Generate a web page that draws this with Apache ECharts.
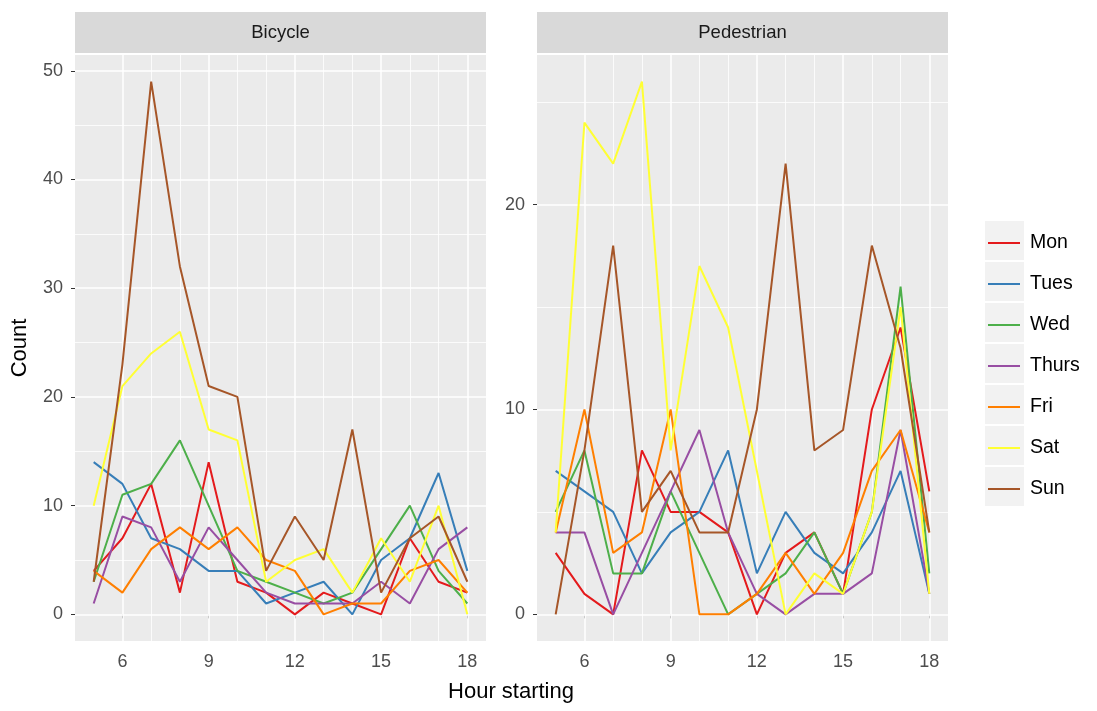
<!DOCTYPE html>
<html>
<head>
<meta charset="utf-8">
<script src="https://cdn.jsdelivr.net/npm/echarts@6/dist/echarts.min.js"></script>
<style>
  html, body { margin: 0; padding: 0; background: #ffffff; }
  #chart { width: 1097px; height: 711px; }
</style>
</head>
<body>
<div id="chart"></div>
<script>
// Hourly counts by day of week, split into two facets
const hours = [5, 6, 7, 8, 9, 10, 11, 12, 13, 14, 15, 16, 17, 18];
const days = ['Mon', 'Tues', 'Wed', 'Thurs', 'Fri', 'Sat', 'Sun'];
const facets = ['Bicycle', 'Pedestrian'];

const bicycleMon   = [4, 7, 12, 2, 14, 3, 2, 0, 2, 1, 0, 7, 3, 2];
const bicycleTues  = [14, 12, 7, 6, 4, 4, 1, 2, 3, 0, 5, 7, 13, 4];
const bicycleWed   = [3, 11, 12, 16, 10, 4, 3, 2, 1, 2, 6, 10, 4, 1];
const bicycleThurs = [1, 9, 8, 3, 8, 5, 2, 1, 1, 1, 3, 1, 6, 8];
const bicycleFri   = [4, 2, 6, 8, 6, 8, 5, 4, 0, 1, 1, 4, 5, 2];
const bicycleSat   = [10, 21, 24, 26, 17, 16, 3, 5, 6, 2, 7, 3, 10, 0];
const bicycleSun   = [3, 23, 49, 32, 21, 20, 4, 9, 5, 17, 2, 7, 9, 3];

const pedestrianMon   = [3, 1, 0, 8, 5, 5, 4, 0, 3, 4, 1, 10, 14, 6];
const pedestrianTues  = [7, 6, 5, 2, 4, 5, 8, 2, 5, 3, 2, 4, 7, 1];
const pedestrianWed   = [5, 8, 2, 2, 6, 3, 0, 1, 2, 4, 1, 5, 16, 2];
const pedestrianThurs = [4, 4, 0, 3, 6, 9, 4, 1, 0, 1, 1, 2, 9, 1];
const pedestrianFri   = [4, 10, 3, 4, 10, 0, 0, 1, 3, 1, 3, 7, 9, 4];
const pedestrianSat   = [4, 24, 22, 26, 8, 17, 14, 7, 0, 2, 1, 5, 15, 1];
const pedestrianSun   = [0, 8, 18, 5, 7, 4, 4, 10, 22, 8, 9, 18, 13, 4];

// Axis breaks
const xBreaks = [6, 9, 12, 15, 18];
const xMinorBreaks = [7, 8, 10, 11, 13, 14, 16, 17];
const bicycleBreaks = [0, 10, 20, 30, 40, 50];
const bicycleMinorBreaks = [5, 15, 25, 35, 45];
const pedestrianBreaks = [0, 10, 20];
const pedestrianMinorBreaks = [5, 15, 25];

const bicycleSeries = [bicycleMon, bicycleTues, bicycleWed, bicycleThurs, bicycleFri, bicycleSat, bicycleSun];
const pedestrianSeries = [pedestrianMon, pedestrianTues, pedestrianWed, pedestrianThurs, pedestrianFri, pedestrianSat, pedestrianSun];

const palette = ['#E41A1C', '#377EB8', '#4DAF4A', '#984EA3', '#FF7F00', '#FFFF33', '#A65628'];
const FONT = '"Liberation Sans", Arial, sans-serif';

// ggplot-style 5% padding around the data range
function padded(lo, hi) {
  const pad = (hi - lo) * 0.05;
  return [lo - pad, hi + pad];
}
const xRange = padded(Math.min(...hours), Math.max(...hours));
const bicycleRange = padded(0, Math.max(...bicycleSeries.flat()));
const pedestrianRange = padded(0, Math.max(...pedestrianSeries.flat()));

const panels = [
  { left: 75, yRange: bicycleRange, breaks: bicycleBreaks, minor: bicycleMinorBreaks, data: bicycleSeries },
  { left: 537, yRange: pedestrianRange, breaks: pedestrianBreaks, minor: pedestrianMinorBreaks, data: pedestrianSeries }
];
const PANEL_W = 411, PANEL_TOP = 55, PANEL_BOTTOM = 70;

const grids = [], xAxes = [], yAxes = [], series = [], graphics = [];

panels.forEach((p, i) => {
  grids.push({
    left: p.left, width: PANEL_W, top: PANEL_TOP, bottom: PANEL_BOTTOM,
    show: true, backgroundColor: '#EBEBEB', borderWidth: 0
  });
  xAxes.push({
    type: 'value', gridIndex: i, min: xRange[0], max: xRange[1],
    axisLine: { show: false },
    axisTick: { show: true, customValues: xBreaks, length: 4, lineStyle: { color: '#333333', width: 1 } },
    axisLabel: { customValues: xBreaks, color: '#4D4D4D', fontSize: 18, fontFamily: FONT, margin: 12 },
    splitLine: { show: false }
  });
  yAxes.push({
    type: 'value', gridIndex: i, min: p.yRange[0], max: p.yRange[1],
    axisLine: { show: false },
    axisTick: { show: true, customValues: p.breaks, length: 4, lineStyle: { color: '#333333', width: 1 } },
    axisLabel: { customValues: p.breaks, color: '#4D4D4D', fontSize: 18, fontFamily: FONT, margin: 12 },
    splitLine: { show: false }
  });

  // white panel grid lines
  const gridLines = [];
  xMinorBreaks.forEach(v => gridLines.push({ xAxis: v, lineStyle: { width: 0.8 } }));
  p.minor.forEach(v => gridLines.push({ yAxis: v, lineStyle: { width: 0.8 } }));
  xBreaks.forEach(v => gridLines.push({ xAxis: v, lineStyle: { width: 1.5 } }));
  p.breaks.forEach(v => gridLines.push({ yAxis: v, lineStyle: { width: 1.5 } }));
  series.push({
    type: 'line', xAxisIndex: i, yAxisIndex: i, data: [], silent: true, z: 1,
    markLine: {
      silent: true, symbol: ['none', 'none'], animation: false, z: 1,
      label: { show: false },
      lineStyle: { color: '#FFFFFF', type: 'solid' },
      emphasis: { disabled: true },
      data: gridLines
    }
  });

  p.data.forEach((vals, d) => {
    series.push({
      name: days[d], type: 'line', xAxisIndex: i, yAxisIndex: i,
      data: hours.map((h, k) => [h, vals[k]]),
      symbol: 'none', showSymbol: false, z: 10 + d,
      lineStyle: { color: palette[d], width: 2 },
      itemStyle: { color: palette[d] },
      animation: false
    });
  });

  // facet strip
  graphics.push({
    type: 'rect', shape: { x: p.left, y: 12, width: PANEL_W, height: 41 },
    style: { fill: '#D9D9D9' }, silent: true
  });
  graphics.push({
    type: 'text', x: p.left + PANEL_W / 2, y: 33,
    style: { text: facets[i], fill: '#1A1A1A', font: '18.5px ' + FONT, textAlign: 'center', textVerticalAlign: 'middle' },
    silent: true
  });
});

// axis titles
graphics.push({
  type: 'text', x: 511, y: 692,
  style: { text: 'Hour starting', fill: '#000000', font: '22px ' + FONT, textAlign: 'center', textVerticalAlign: 'middle' },
  silent: true
});
graphics.push({
  type: 'text', x: 20, y: 348, rotation: Math.PI / 2,
  style: { text: 'Count', fill: '#000000', font: '22px ' + FONT, textAlign: 'center', textVerticalAlign: 'middle' },
  silent: true
});

// legend key backgrounds
days.forEach((d, k) => {
  graphics.push({
    type: 'rect', shape: { x: 985, y: 221 + k * 41, width: 39, height: 39 },
    style: { fill: '#F2F2F2' }, silent: true, z: -1
  });
});

const option = {
  backgroundColor: '#FFFFFF',
  animation: false,
  grid: grids,
  xAxis: xAxes,
  yAxis: yAxes,
  series: series,
  graphic: graphics,
  legend: {
    data: days, orient: 'vertical', left: 988, top: 233, padding: 0,
    itemWidth: 32, itemHeight: 20, itemGap: 21,
    icon: 'path://M0,9 L32,9 L32,11 L0,11 Z',
    textStyle: { color: '#000000', fontSize: 19.5, fontFamily: FONT, padding: [0, 0, 0, 5], height: 20, lineHeight: 20 },
    selectedMode: false
  }
};

const chart = echarts.init(document.getElementById('chart'), null, { renderer: 'canvas' });
chart.setOption(option);
</script>
</body>
</html>
